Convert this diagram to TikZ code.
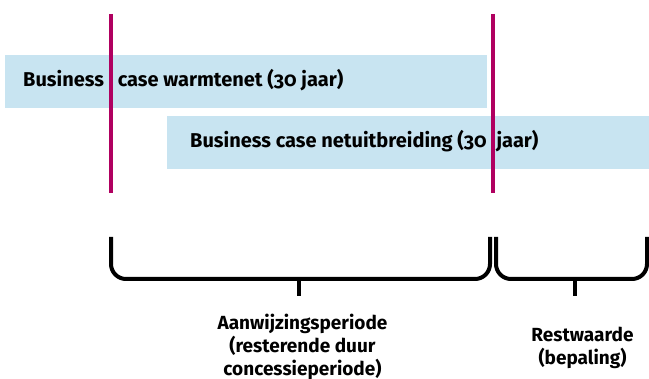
\documentclass[tikz,border=0pt]{standalone}
\usepackage{fontspec}
\setmainfont{Fira Sans}[Numbers=OldStyle]
\usetikzlibrary{positioning}
\definecolor{barblue}{RGB}{200,228,241}
\definecolor{markred}{RGB}{176,0,96}

\begin{document}
\begin{tikzpicture}[x=1pt,y=-1pt]
	\tikzstyle{bar}=[fill=barblue, inner sep=0pt, minimum width=482pt, minimum height=53pt, anchor=north west]
	\tikzstyle{bartext}=[font=\bfseries\fontsize{20}{24}\selectfont, inner sep=0pt, anchor=base west]
	\tikzstyle{marker}=[draw=markred, line width=4pt]
	\tikzstyle{brace}=[draw, line width=4pt, rounded corners=15pt]
	\tikzstyle{periodtext}=[font=\bfseries\fontsize{19}{23}\selectfont, align=center, inner sep=0pt, anchor=north]
	\useasboundingbox (0,0) rectangle (649,379);
		% balken
		\node[bar] (warmtenet) at (5,55) {};
		\node[bar] (netuitbreiding) at (167,116) {};
		\node[bartext] (twarmtenet) at (23,86.5) {Business\hspace{9pt} case warmtenet (30 jaar)};
		\node[bartext] (tnetuitbreiding) at (190,148) {Business case netuitbreiding (30\hspace{5pt} jaar)};
		% markeringen
		\coordinate (m1top) at (111,14);
		\coordinate (m1bot) at (111,193);
		\coordinate (m2top) at (493,14);
		\coordinate (m2bot) at (493,193);
		\draw[marker] (m1top) -- (m1bot);
		\draw[marker] (m2top) -- (m2bot);
		% accolades
		\coordinate (a1) at (111,237);
		\coordinate (a2) at (490,237);
		\coordinate (a3) at (496,237);
		\coordinate (a4) at (647,237);
		\coordinate (t1) at (299,279);
		\coordinate (t2) at (575,279);
		\draw[brace] (a1) |- (t1) -| (a2);
		\draw[brace] (a3) |- (t2) -| (a4);
		\draw[line width=4pt] (t1) -- ++(0,17) coordinate (t1end);
		\draw[line width=4pt] (t2) -- ++(0,17) coordinate (t2end);
		\node[periodtext] (aanwijzing) at (302.5,313.5) {Aanwijzingsperiode\\(resterende duur\\concessieperiode)};
		\node[periodtext] (restwaarde) at (582.5,326.5) {Restwaarde\\(bepaling)};
\end{tikzpicture}
\end{document}
